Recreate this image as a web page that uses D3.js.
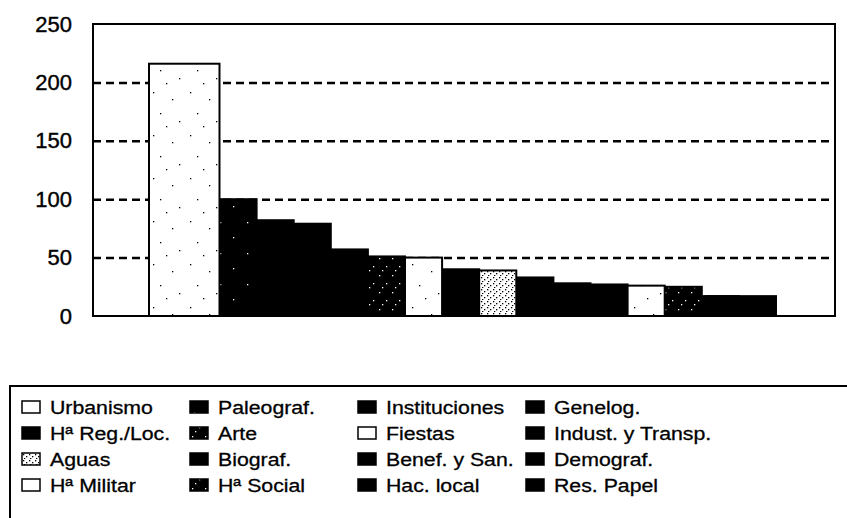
<!DOCTYPE html>
<html>
<head>
<meta charset="utf-8">
<script src="https://d3js.org/d3.v7.min.js"></script>
<style>
  body { margin: 0; background: #fff; }
  svg { display: block; font-family: "Liberation Sans", Arial, Helvetica, sans-serif; }
</style>
</head>
<body>
<svg id="chart" width="847" height="518"></svg>
<script>
// series, in legend order (row by row), which is also the bar order
const categories = ["Urbanismo", "Paleograf.", "Instituciones", "Genelog.",
                    "Hª Reg./Loc.", "Arte", "Fiestas", "Indust. y Transp.",
                    "Aguas", "Biograf.", "Benef. y San.", "Demograf.",
                    "Hª Militar", "Hª Social", "Hac. local", "Res. Papel"];
const values = [216, 100, 82, 79, 57, 51, 50, 40, 39, 33, 28, 27, 26, 25, 17, 17];
const fills = ["url(#pWhite)", "url(#pBlackDots)", "#000", "#000",
               "#000", "url(#pDark)", "url(#pWhite)", "#000",
               "url(#pAguas)", "#000", "#000", "#000",
               "url(#pWhite)", "url(#pDark)", "#000", "#000"];
const yTicks = [0, 50, 100, 150, 200, 250];
const gridTicks = [50, 100, 150, 200];

const svg = d3.select('#chart');

// patterns imitating the printed textures
const defs = svg.append('defs');
function pattern(id, w, h, bg, dot, pts) {
    const p = defs.append('pattern').attr('id', id)
        .attr('patternUnits', 'userSpaceOnUse').attr('width', w).attr('height', h);
    p.append('rect').attr('width', w).attr('height', h).attr('fill', bg);
    pts.forEach(function (d) {
        p.append('rect').attr('x', d[0]).attr('y', d[1]).attr('width', 1.3).attr('height', 1.3).attr('fill', dot);
    });
}
pattern('pWhite', 37, 43, '#fff', '#000', [[5, 6], [24, 13], [12, 27], [31, 35], [18, 40]]);
pattern('pAguas', 6, 6, '#fff', '#000', [[1, 1], [4, 3], [2, 5]]);
pattern('pDark', 13, 17, '#000', '#fff', [[2, 3], [9, 11], [5, 15]]);
pattern('pBlackDots', 27, 31, '#000', '#fff', [[4, 5], [17, 20]]);

const pLeft = 93, pRight = 835, pTop = 24, pBottom = 316;

const y = d3.scaleLinear().domain([0, 250]).range([pBottom, pTop]);
const x = d3.scaleBand().domain(categories).range([149, 149 + 16 * 37.1]);
const barW = x.bandwidth() * 1.9;

// dashed gridlines
const grid = svg.append('g').attr('transform', 'translate(' + pLeft + ',0)')
    .call(d3.axisLeft(y).tickValues(gridTicks).tickSize(-(pRight - pLeft)).tickFormat(''));
grid.select('.domain').remove();
grid.selectAll('line').attr('stroke', '#000').attr('stroke-width', 2.5).attr('stroke-dasharray', '8,5');

// bars: earlier series are drawn on top of the later ones
const data = categories.map(function (c, i) { return { name: c, value: values[i], fill: fills[i] }; });
svg.append('g').selectAll('rect').data(data.slice().reverse()).enter().append('rect')
    .attr('x', function (d) { return x(d.name); })
    .attr('y', function (d) { return y(d.value); })
    .attr('width', barW)
    .attr('height', function (d) { return y(0) - y(d.value); })
    .attr('fill', function (d) { return d.fill; })
    .attr('stroke', '#000')
    .attr('stroke-width', 2);

// plot frame
svg.append('rect').attr('x', pLeft).attr('y', pTop)
    .attr('width', pRight - pLeft).attr('height', pBottom - pTop)
    .attr('fill', 'none').attr('stroke', '#000').attr('stroke-width', 2);

// y labels
const ya = svg.append('g').attr('transform', 'translate(' + pLeft + ',0)')
    .call(d3.axisLeft(y).tickValues(yTicks).tickSize(0).tickPadding(21));
ya.select('.domain').remove();
ya.selectAll('text').attr('font-size', 22).attr('font-family', '"Liberation Sans", Arial, sans-serif')
    .attr('fill', '#000').attr('stroke', '#000').attr('stroke-width', 0.4);

// legend
const leg = svg.append('g');
leg.append('rect').attr('x', 10).attr('y', 386).attr('width', 860).attr('height', 160)
    .attr('fill', 'none').attr('stroke', '#000').attr('stroke-width', 2);
const item = leg.selectAll('g.item').data(data).enter().append('g')
    .attr('class', 'item')
    .attr('transform', function (d, i) { return 'translate(' + (22 + (i % 4) * 168) + ',' + (407 + Math.floor(i / 4) * 26) + ')'; });
item.append('rect').attr('x', 0).attr('y', -6).attr('width', 18).attr('height', 12)
    .attr('fill', function (d) { return d.fill === 'url(#pWhite)' ? '#fff' : d.fill; })
    .attr('stroke', '#000').attr('stroke-width', 1.5);
item.append('text')
    .attr('transform', 'translate(28,7) scale(1.12,1)')
    .attr('font-size', 19)
    .attr('fill', '#000').attr('stroke', '#000').attr('stroke-width', 0.3)
    .text(function (d) { return d.name; });
</script>
</body>
</html>
